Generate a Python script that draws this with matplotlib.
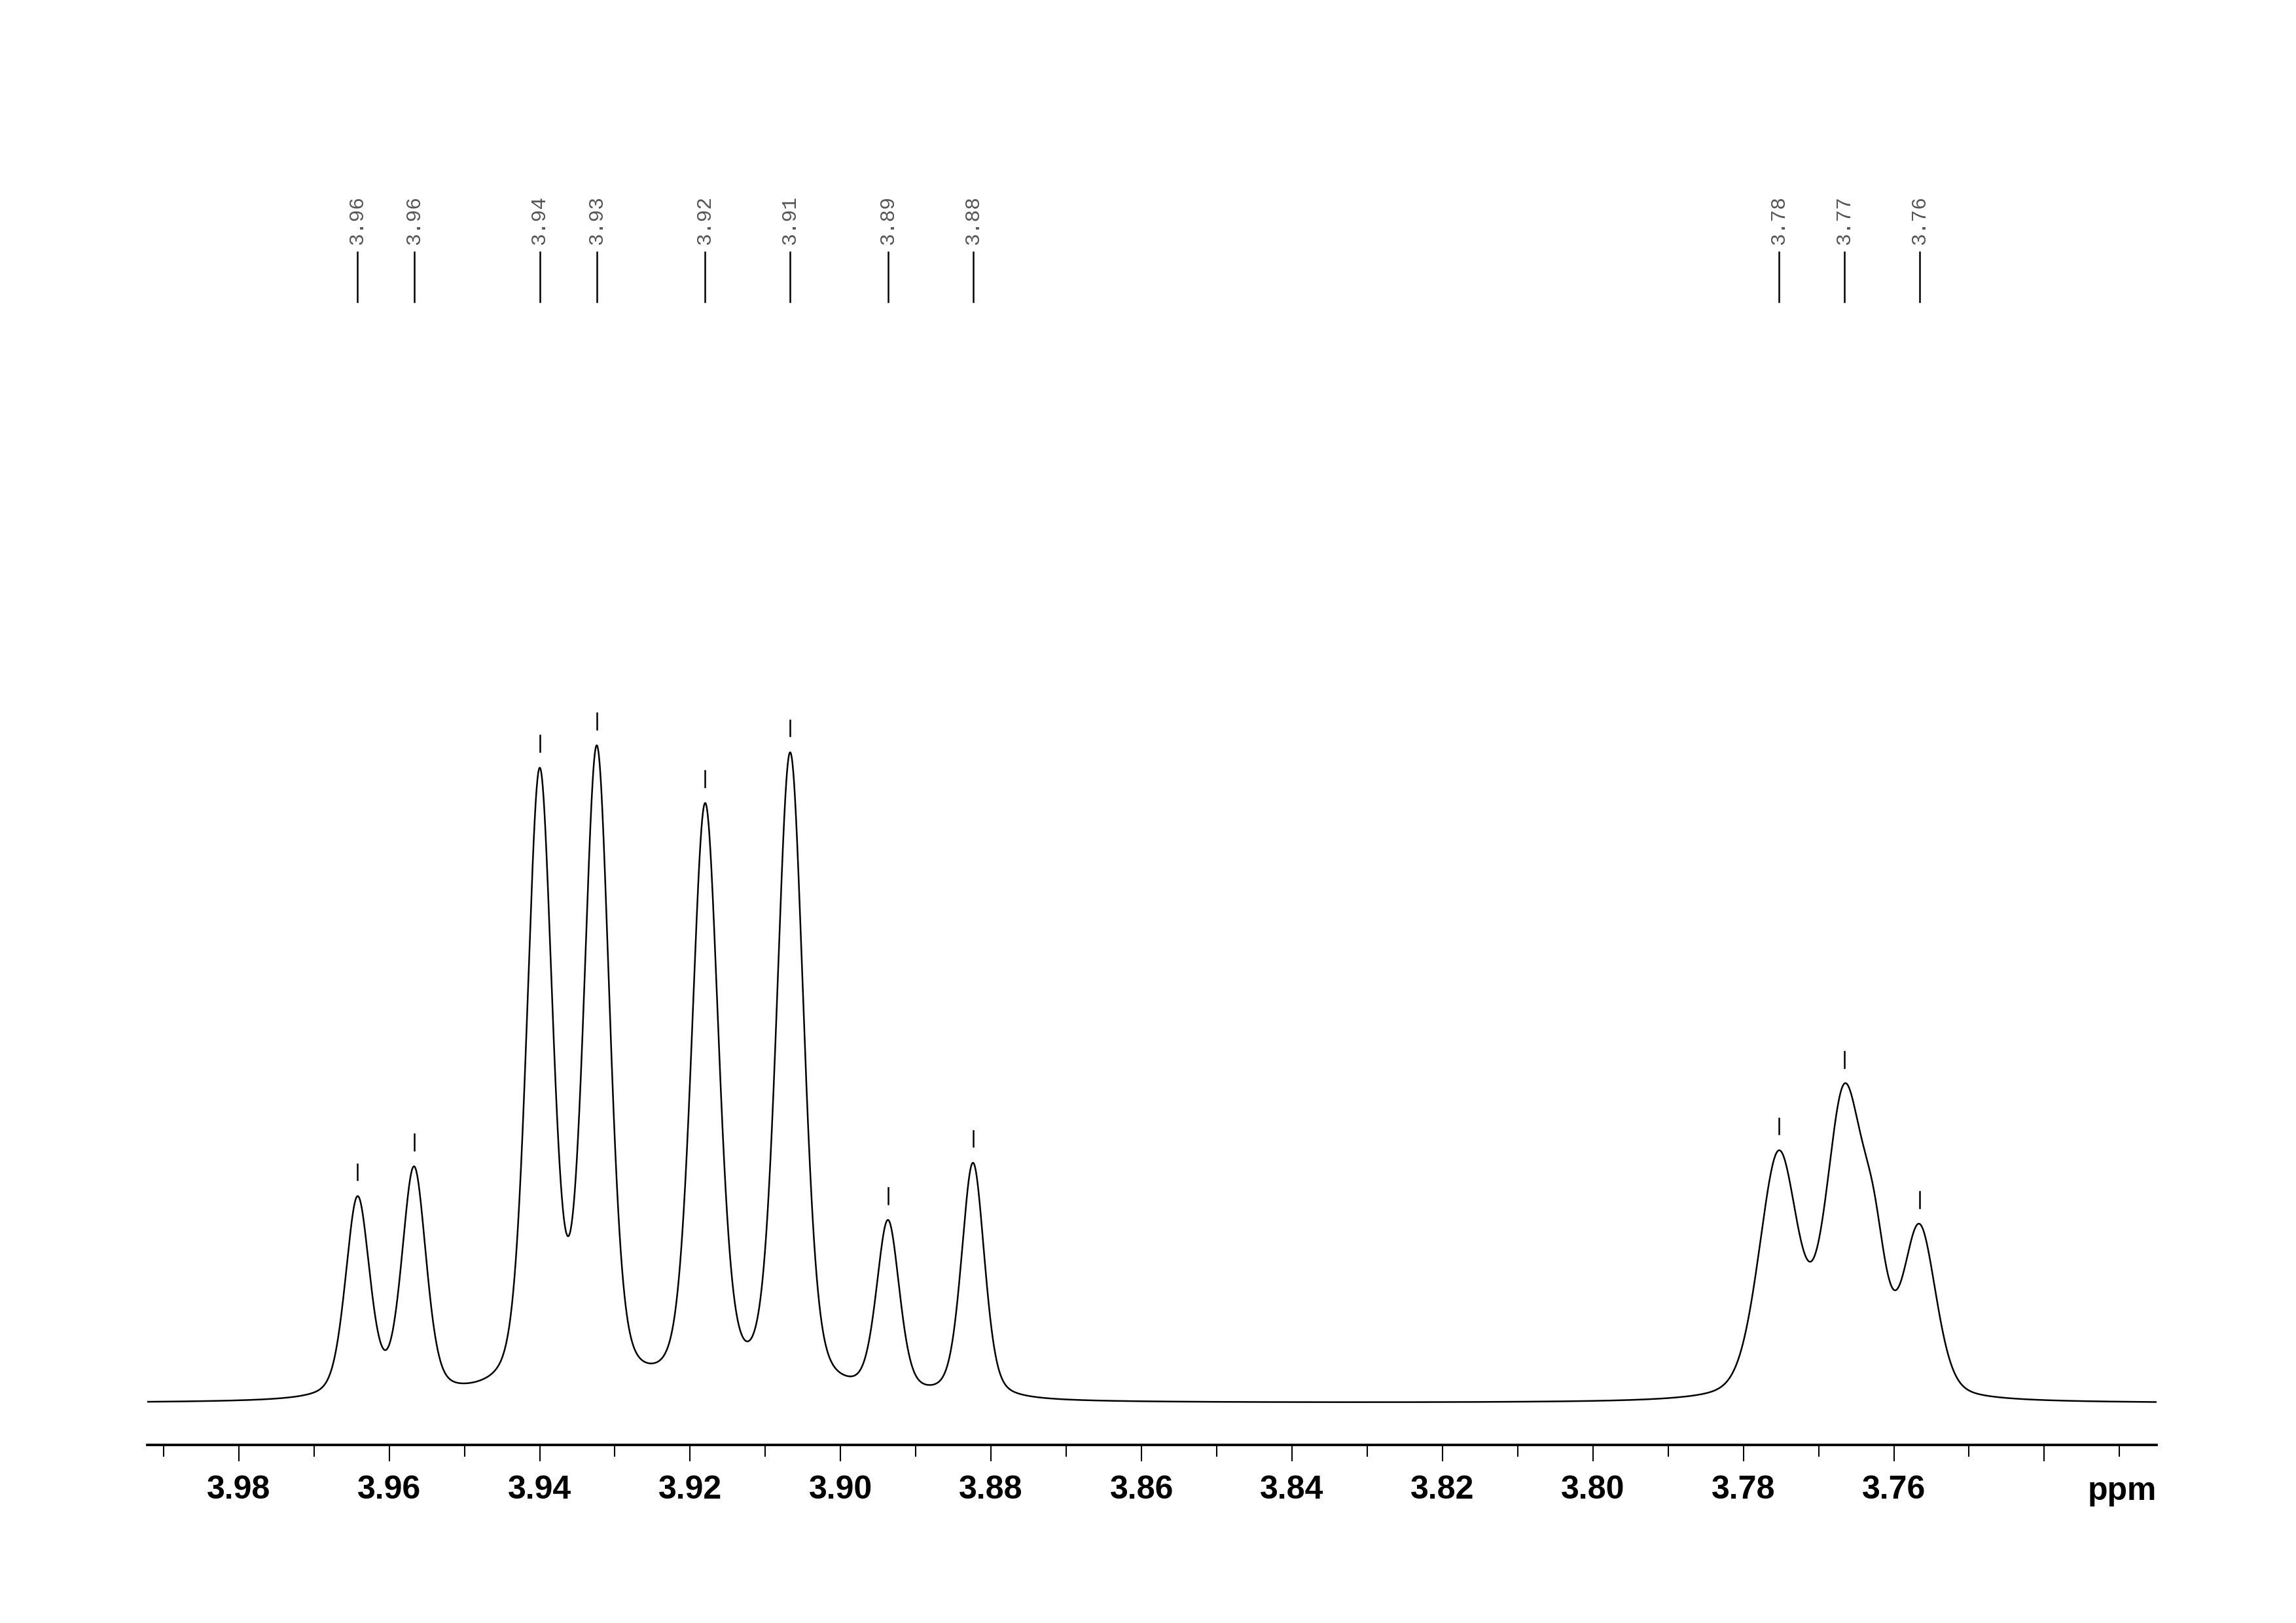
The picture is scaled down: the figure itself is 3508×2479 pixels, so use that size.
import numpy as np
import matplotlib
matplotlib.use('Agg')
import matplotlib.pyplot as plt

# peak list: position (ppm), height above baseline,
# half width at half height (ppm) and lorentzian fraction of the line shape
peak_ppm = [3.9642, 3.9567, 3.9400, 3.9324, 3.9180, 3.9067, 3.8937, 3.8824,
            3.7753, 3.7666, 3.7566]
peak_label = ['3.96', '3.96', '3.94', '3.93', '3.92', '3.91', '3.89', '3.88',
              '3.78', '3.77', '3.76']
peak_height = [136, 155, 421, 435, 400, 437, 118, 161, 165, 202, 114]
peak_hwhm = [0.0019, 0.0019, 0.0020, 0.0020, 0.0021, 0.0021, 0.0018, 0.0018,
             0.0031, 0.0029, 0.0026]
peak_lorentz = [0.35, 0.35, 0.35, 0.35, 0.35, 0.35, 0.35, 0.35, 0.3, 0.3, 0.3]

# shoulder on the high field side of the 3.77 line (not picked)
shoulder_ppm = [3.7626]
shoulder_height = [75]
shoulder_hwhm = [0.0020]
shoulder_lorentz = [0.3]

major_ticks = [3.98, 3.96, 3.94, 3.92, 3.90, 3.88, 3.86, 3.84, 3.82, 3.80,
               3.78, 3.76, 3.74]
major_labels = ['3.98', '3.96', '3.94', '3.92', '3.90', '3.88', '3.86', '3.84',
                '3.82', '3.80', '3.78', '3.76', '']
minor_ticks = [3.99, 3.97, 3.95, 3.93, 3.91, 3.89, 3.87, 3.85, 3.83, 3.81,
               3.79, 3.77, 3.75, 3.73]

ppm_left = 3.9922
ppm_right = 3.7251


def line(x, pos, h, hw, eta):
    a2 = ((x - pos) / hw) ** 2
    return h * (eta / (1 + a2) + (1 - eta) * np.exp(-np.log(2) * a2))


def spectrum(x):
    y = np.zeros_like(x)
    for p, h, w, e in zip(peak_ppm, peak_height, peak_hwhm, peak_lorentz):
        y += line(x, p, h, w, e)
    for p, h, w, e in zip(shoulder_ppm, shoulder_height, shoulder_hwhm, shoulder_lorentz):
        y += line(x, p, h, w, e)
    return y


x = np.linspace(ppm_left, ppm_right, 8000)
y = spectrum(x)

fig = plt.figure(figsize=(3508 / 300, 2479 / 300), dpi=300)
ax = fig.add_axes([0.0640, 0.10966, 0.9392 - 0.0640, 0.85424])
ax.plot(x, y, color='black', linewidth=0.6)
ax.set_xlim(ppm_left, ppm_right)
ax.set_ylim(-28.5, 918)

# little bars over every picked peak
tops = spectrum(np.array(peak_ppm))
for p, t in zip(peak_ppm, tops):
    ax.plot([p, p], [t + 11, t + 22], color='black', linewidth=0.6)

# peak labels on top
for p, lab in zip(peak_ppm, peak_label):
    ax.plot([p, p], [752, 786], color='black', linewidth=0.6)
    ax.text(p, 791, lab, rotation=90, ha='center', va='bottom',
            fontsize=7.5, family=['Liberation Mono', 'DejaVu Sans Mono'],
            color='#555555')

for s in ['left', 'right', 'top']:
    ax.spines[s].set_visible(False)
ax.spines['bottom'].set_linewidth(0.9)
ax.set_yticks([])
ax.set_xticks(major_ticks)
ax.set_xticklabels(major_labels, fontsize=12, fontweight='bold',
                   family=['Liberation Sans', 'DejaVu Sans'])
ax.set_xticks(minor_ticks, minor=True)
ax.tick_params(axis='x', which='major', direction='out', length=6, width=0.5, pad=5)
ax.tick_params(axis='x', which='minor', direction='out', length=4.2, width=0.5)

fig.text(0.9392, 1 - 2291 / 2479, 'ppm', ha='right', va='baseline',
         fontsize=12, fontweight='bold', family=['Liberation Sans', 'DejaVu Sans'])

plt.savefig('out.png', dpi=300)
plt.close()
